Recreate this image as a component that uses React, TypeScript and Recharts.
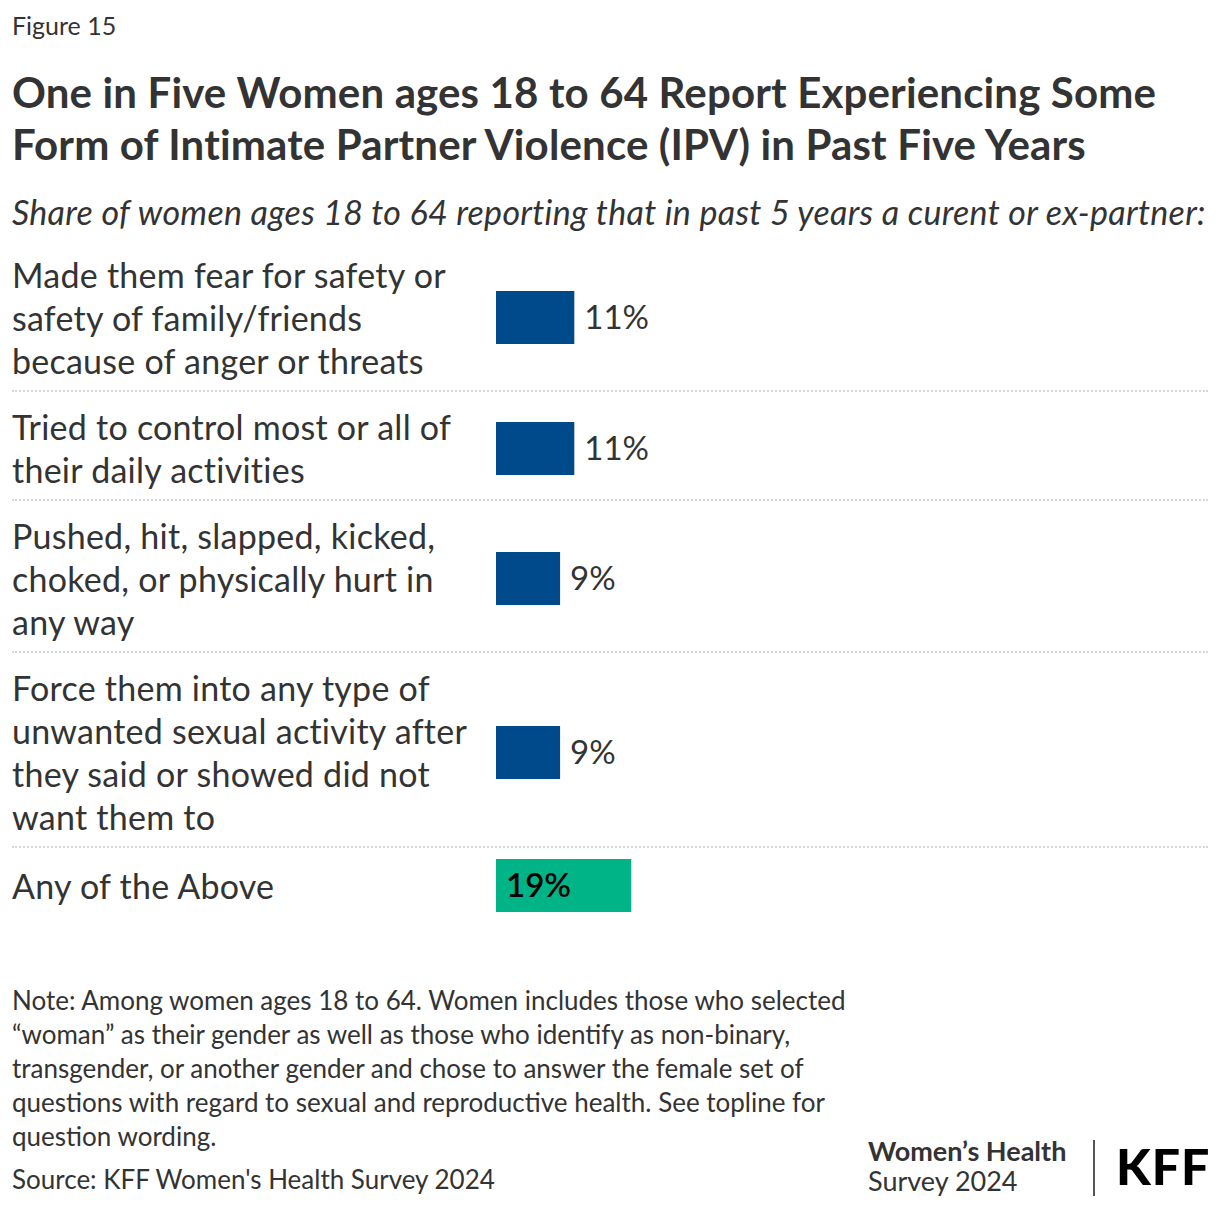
import React from "react";
import { Bar, BarChart, LabelList, XAxis, YAxis, Cell } from "recharts";

// one entry per row, labels wrapped as in the figure
const categories: string[][] = [
  ["Made them fear for safety or", "safety of family/friends", "because of anger or threats"],
  ["Tried to control most or all of", "their daily activities"],
  ["Pushed, hit, slapped, kicked,", "choked, or physically hurt in", "any way"],
  ["Force them into any type of", "unwanted sexual activity after", "they said or showed did not", "want them to"],
  ["Any of the Above"],
];
const shares = [11, 11, 9, 9, 19];
const isTotal = [false, false, false, false, true];

const noteLines = [
  "Note: Among women ages 18 to 64. Women includes those who selected",
  "\u201cwoman\u201d as their gender as well as those who identify as non-binary,",
  "transgender, or another gender and chose to answer the female set of",
  "questions with regard to sexual and reproductive health. See topline for",
  "question wording.",
];

const FONT = "Lato, 'Noto Sans', sans-serif";
const TEXT = "#333333";
const BLUE = "#00498a";
const GREEN = "#00b488";
const LINE_H = 43;

const Row: React.FC<{ idx: number }> = ({ idx }) => {
  const lines = categories[idx];
  const h = Math.max(lines.length * LINE_H, 60);
  const data = [{ name: lines.join(" "), value: shares[idx] }];
  const total = isTotal[idx];
  return (
    <div
      style={{
        display: "flex",
        alignItems: "center",
        paddingTop: total ? 7 : 13,
        paddingBottom: 8,
        borderBottom: idx < categories.length - 1 ? "2px dotted #d6d6d6" : "none",
      }}
    >
      <div
        style={{
          width: 484,
          fontSize: 34,
          letterSpacing: 0.25,
          lineHeight: `${LINE_H}px`,
          color: TEXT,
          whiteSpace: "nowrap",
        }}
      >
        {lines.map((l, i) => (
          <div key={i}>{l}</div>
        ))}
      </div>
      <BarChart
        width={712}
        height={h}
        data={data}
        layout="vertical"
        barCategoryGap={0}
        margin={{ top: 0, right: 0, bottom: 0, left: 0 }}
      >
        <XAxis type="number" domain={[0, 100]} hide />
        <YAxis type="category" dataKey="name" hide />
        <Bar dataKey="value" barSize={53} isAnimationActive={false}>
          {data.map((d, i) => (
            <Cell key={i} fill={total ? GREEN : BLUE} />
          ))}
          <LabelList
            dataKey="value"
            position={total ? "insideLeft" : "right"}
            offset={10}
            formatter={(v: number) => `${v}%`}
            style={{
              fill: total ? "#000000" : TEXT,
              fontSize: 33,
              fontFamily: FONT,
              fontWeight: total ? 600 : 400,
            }}
          />
        </Bar>
      </BarChart>
    </div>
  );
};

export default function App() {
  return (
    <div
      style={{
        width: 1220,
        height: 1208,
        margin: -8,
        background: "#ffffff",
        fontFamily: FONT,
        color: TEXT,
        position: "relative",
        overflow: "hidden",
      }}
    >
      <div style={{ position: "absolute", left: 12, top: 10, fontSize: 25, color: TEXT }}>Figure 15</div>
      <div
        style={{
          position: "absolute",
          left: 12,
          top: 66,
          fontSize: 42,
          fontWeight: 700,
          letterSpacing: 0.15,
          lineHeight: "52px",
          color: TEXT,
          whiteSpace: "nowrap",
        }}
      >
        <div>One in Five Women ages 18 to 64 Report Experiencing Some</div>
        <div>Form of Intimate Partner Violence (IPV) in Past Five Years</div>
      </div>
      <div
        style={{
          position: "absolute",
          left: 12,
          top: 191,
          fontSize: 34,
          letterSpacing: 0.3,
          fontStyle: "italic",
          whiteSpace: "nowrap",
          color: TEXT,
        }}
      >
        Share of women ages 18 to 64 reporting that in past 5 years a curent or ex-partner:
      </div>
      <div style={{ position: "absolute", left: 12, top: 240, width: 1196 }}>
        {categories.map((_, i) => (
          <Row key={i} idx={i} />
        ))}
      </div>
      <div style={{ position: "absolute", left: 12, top: 983, fontSize: 26, lineHeight: "34px", color: TEXT }}>
        {noteLines.map((l, i) => (
          <div key={i}>{l}</div>
        ))}
        <div style={{ marginTop: 9 }}>Source: KFF Women's Health Survey 2024</div>
      </div>
      <div style={{ position: "absolute", left: 868, top: 1136, fontSize: 27, lineHeight: "30px", color: TEXT }}>
        <div style={{ fontWeight: 700 }}>Women’s Health</div>
        <div>Survey 2024</div>
      </div>
      <div style={{ position: "absolute", left: 1093, top: 1140, width: 2, height: 56, background: "#555" }} />
      <div
        style={{
          position: "absolute",
          left: 1116,
          top: 1138,
          fontSize: 50,
          fontWeight: 900,
          color: "#000",
          lineHeight: "56px",
          letterSpacing: 1,
        }}
      >
        KFF
      </div>
    </div>
  );
}
